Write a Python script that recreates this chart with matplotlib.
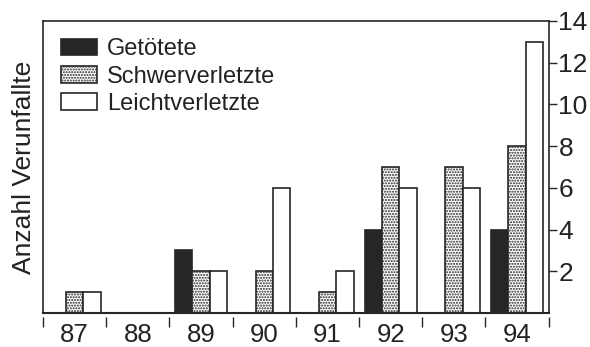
import numpy as np
import matplotlib
matplotlib.use("Agg")
import matplotlib.pyplot as plt

plt.rcParams['font.family'] = ['Liberation Sans', 'DejaVu Sans']
plt.rcParams['hatch.linewidth'] = 1.0

# Daten
jahre = ['87', '88', '89', '90', '91', '92', '93', '94']
getoetete = [0, 0, 3, 0, 0, 4, 0, 4]
schwerverletzte = [1, 0, 2, 2, 1, 7, 7, 8]
leichtverletzte = [1, 0, 2, 6, 2, 6, 6, 13]

dunkel = '#262626'
text = '#222222'

fig = plt.figure(figsize=(5.9, 3.47), dpi=100)
ax = fig.add_axes([0.073, 0.098, 0.857, 0.842])

x = np.arange(len(jahre))
w = 0.275
ax.bar(x - w, getoetete, w, color=dunkel, edgecolor=dunkel, linewidth=1.2, label='Getötete')
ax.bar(x, schwerverletzte, w, color='white', edgecolor=dunkel, hatch='......', linewidth=1.2,
       label='Schwerverletzte')
ax.bar(x + w, leichtverletzte, w, color='white', edgecolor=dunkel, linewidth=1.2,
       label='Leichtverletzte')

ax.set_xlim(-0.5, len(jahre) - 0.5)
ax.set_ylim(0, 14)

# y-Achse rechts
ax.yaxis.tick_right()
ax.set_yticks([2, 4, 6, 8, 10, 12, 14])
ax.tick_params(axis='y', direction='out', length=6, width=1, colors=dunkel,
               labelsize=19, pad=1, labelcolor=text)
ax.set_ylabel('Anzahl Verunfallte', fontsize=19, color=text)
ax.yaxis.set_label_position('left')
ax.yaxis.set_label_coords(-0.014, 0.5)

# x-Achse: Striche zwischen den Jahren, Beschriftung in der Mitte
ax.set_xticks(np.arange(len(jahre) + 1) - 0.5)
ax.set_xticklabels([])
ax.set_xticks(x, minor=True)
ax.set_xticklabels(jahre, minor=True)
ax.tick_params(axis='x', which='major', direction='out', length=7, width=1, colors=dunkel)
ax.tick_params(axis='x', which='minor', length=0, labelsize=18.5, pad=4, labelcolor=text)
ax.spines['bottom'].set_position(('outward', 3))
ax.spines['bottom'].set_visible(False)
ax.axhline(0, color=dunkel, linewidth=1.5, clip_on=False)

for s in ['left', 'right', 'top']:
    ax.spines[s].set_color(dunkel)
    ax.spines[s].set_linewidth(1.2)

leg = ax.legend(loc='upper left', frameon=False, fontsize=17, handlelength=1.55,
                handleheight=0.7, handletextpad=0.4, labelspacing=0.22,
                bbox_to_anchor=(0.035, 0.94), borderaxespad=0, borderpad=0)
for t in leg.get_texts():
    t.set_color(text)

fig.savefig('out.png', dpi=100)
